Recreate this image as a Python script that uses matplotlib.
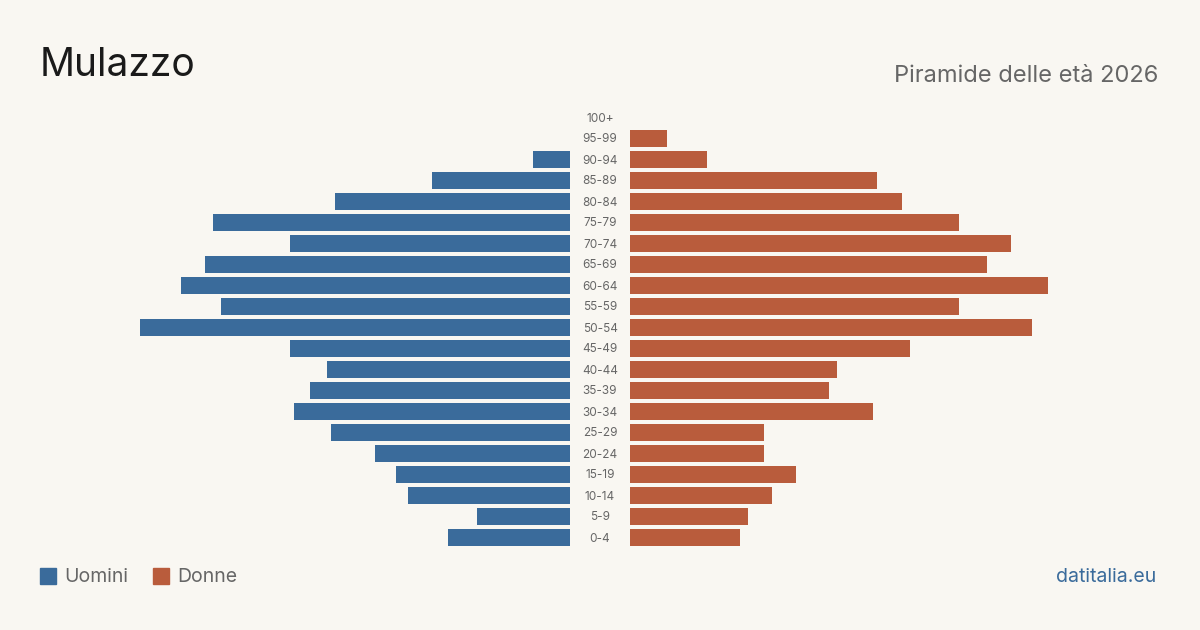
import matplotlib.pyplot as plt
from matplotlib.patches import Rectangle

# age classes, bottom to top
age_groups = ['0-4', '5-9', '10-14', '15-19', '20-24', '25-29', '30-34', '35-39',
              '40-44', '45-49', '50-54', '55-59', '60-64', '65-69', '70-74', '75-79',
              '80-84', '85-89', '90-94', '95-99', '100+']
men = [30, 23, 40, 43, 48, 59, 68, 64, 60, 69, 106, 86, 96, 90, 69, 88, 58, 34, 9, 0, 0]
women = [27, 29, 35, 41, 33, 33, 60, 49, 51, 69, 99, 81, 103, 88, 94, 81, 67, 61, 19, 9, 0]

title = 'Mulazzo'
subtitle = 'Piramide delle età 2026'
source = 'datitalia.eu'

# colours
bg = '#f9f7f2'
col_men = '#3a6b9b'
col_women = '#b95c3c'
col_text = '#666666'

plt.rcParams['font.family'] = ['Inter', 'DejaVu Sans']

W, H = 1200, 630
fig = plt.figure(figsize=(W / 100, H / 100), dpi=100, facecolor=bg)

px_per_unit = 4.057
y_bottom = (H - 548) / H
y_height = 441 / H

# left axes (men), right edge at x=570
left_w = 470
ax_m = fig.add_axes([(570 - left_w) / W, y_bottom, left_w / W, y_height])
# right axes (women), left edge at x=630
ax_w = fig.add_axes([630 / W, y_bottom, left_w / W, y_height])

ypos = list(range(len(age_groups)))
ax_m.barh(ypos, men, height=0.8, color=col_men)
ax_w.barh(ypos, women, height=0.8, color=col_women)

xmax = left_w / px_per_unit
ax_m.set_xlim(xmax, 0)
ax_w.set_xlim(0, xmax)
for ax in (ax_m, ax_w):
    ax.set_ylim(-0.5, len(age_groups) - 0.5)
    ax.axis('off')
    ax.set_facecolor('none')

# age labels in the gap between the two halves
for i, lab in enumerate(age_groups):
    y = y_bottom + (i + 0.5) / len(age_groups) * y_height
    fig.text(600 / W, y - 1 / H, lab, ha='center', va='center', fontsize=8.5, color=col_text)

# titles
fig.text(40 / W, 1 - 66 / H, title, ha='left', va='center', fontsize=28, color='#1a1a1a')
fig.text(1158 / W, 1 - 76 / H, subtitle, ha='right', va='center', fontsize=17, color=col_text)

# legend
fig.patches.append(Rectangle((40 / W, 1 - 584 / H), 16 / W, 16 / H,
                             transform=fig.transFigure, color=col_men))
fig.text(64 / W, 1 - 577 / H, 'Uomini', ha='left', va='center', fontsize=14, color=col_text)
fig.patches.append(Rectangle((153 / W, 1 - 584 / H), 16 / W, 16 / H,
                             transform=fig.transFigure, color=col_women))
fig.text(177 / W, 1 - 577 / H, 'Donne', ha='left', va='center', fontsize=14, color=col_text)

fig.text(1156 / W, 1 - 577 / H, source, ha='right', va='center', fontsize=14, color=col_men)

fig.savefig('out.png', dpi=100, facecolor=bg)
